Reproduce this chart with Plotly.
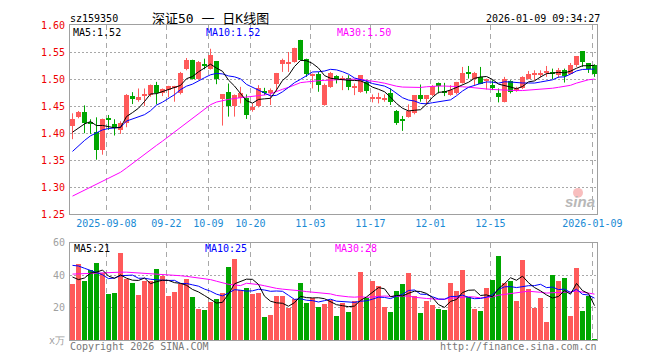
import plotly.graph_objects as go

# ---------------- data ----------------
dates = (
    ["2025-08-29"]
    + ["2025-09-%02d" % d for d in (1, 2, 3, 4, 5, 8, 9, 10, 11, 12, 15, 16, 17, 18, 19, 22, 23, 24, 25, 26, 29, 30)]
    + ["2025-10-%02d" % d for d in (9, 10, 13, 14, 15, 16, 17, 20, 21, 22, 23, 24, 27, 28, 29, 30, 31)]
    + ["2025-11-%02d" % d for d in (3, 4, 5, 6, 7, 10, 11, 12, 13, 14, 17, 18, 19, 20, 21, 24, 25, 26, 27, 28)]
    + ["2025-12-%02d" % d for d in (1, 2, 3, 4, 5, 8, 9, 10, 11, 12, 15, 16, 17, 18, 19, 22, 23, 24, 25, 26, 29, 30, 31)]
    + ["2026-01-%02d" % d for d in (5, 6, 7, 8, 9)]
)

open_ = [1.4135, 1.4307, 1.4386, 1.4196, 1.4025, 1.3695, 1.4270, 1.4166, 1.4062, 1.4196,
         1.4680, 1.4613, 1.4686, 1.4704, 1.4900, 1.4747, 1.4796, 1.4827, 1.4747, 1.5182,
         1.5359, 1.5010, 1.5286, 1.5188, 1.5335, 1.4631, 1.4766, 1.4502, 1.4643, 1.4643,
         1.4429, 1.4502, 1.4784, 1.4735, 1.4919, 1.5274, 1.5274, 1.5316, 1.5726, 1.5365,
         1.5053, 1.5090, 1.4521, 1.4857, 1.5053, 1.4980, 1.5029, 1.4827, 1.4753, 1.4949,
         1.4631, 1.4649, 1.4631, 1.4735, 1.4417, 1.4258, 1.4307, 1.4368, 1.4704, 1.4625,
         1.4704, 1.4937, 1.4784, 1.4704, 1.4735, 1.4937, 1.5133, 1.5010, 1.5041, 1.4968,
         1.4888, 1.4747, 1.4582, 1.4962, 1.4784, 1.4827, 1.5010, 1.5084, 1.5090, 1.5114,
         1.5133, 1.5072, 1.5176, 1.5102, 1.5255, 1.5518, 1.5298, 1.5255]
high = [1.4368, 1.4411, 1.4515, 1.4258, 1.4294, 1.4270, 1.4337, 1.4258, 1.4221, 1.4723,
        1.4759, 1.4827, 1.4827, 1.4900, 1.4949, 1.4827, 1.4876, 1.4876, 1.5133, 1.5390,
        1.5359, 1.5335, 1.5378, 1.5561, 1.5335, 1.4717, 1.4919, 1.4717, 1.4857, 1.4717,
        1.4551, 1.4888, 1.4839, 1.4827, 1.5114, 1.5378, 1.5500, 1.5580, 1.5726, 1.5378,
        1.5102, 1.5133, 1.4919, 1.5133, 1.5072, 1.5059, 1.5072, 1.4919, 1.5072, 1.4980,
        1.4717, 1.4747, 1.4717, 1.4827, 1.4429, 1.4319, 1.4533, 1.4704, 1.4900, 1.4704,
        1.4888, 1.4937, 1.4931, 1.4888, 1.4949, 1.5225, 1.5243, 1.5133, 1.5225, 1.5010,
        1.4980, 1.4827, 1.5041, 1.4980, 1.4857, 1.5053, 1.5151, 1.5163, 1.5163, 1.5243,
        1.5194, 1.5206, 1.5194, 1.5298, 1.5420, 1.5518, 1.5298, 1.5274]
low = [1.3890, 1.4276, 1.4001, 1.3988, 1.3511, 1.3603, 1.4062, 1.3958, 1.3988, 1.4111,
       1.4539, 1.4582, 1.4502, 1.4674, 1.4533, 1.4686, 1.4662, 1.4582, 1.4717, 1.5163,
       1.4992, 1.4998, 1.5182, 1.5176, 1.4906, 1.4141, 1.4307, 1.4307, 1.4551, 1.4264,
       1.4398, 1.4478, 1.4704, 1.4521, 1.4766, 1.5133, 1.5133, 1.5304, 1.5347, 1.5041,
       1.4827, 1.4766, 1.4509, 1.4839, 1.4919, 1.4796, 1.4796, 1.4704, 1.4747, 1.4735,
       1.4570, 1.4551, 1.4582, 1.4521, 1.4154, 1.4043, 1.4288, 1.4349, 1.4582, 1.4533,
       1.4686, 1.4735, 1.4686, 1.4692, 1.4717, 1.4919, 1.5010, 1.4888, 1.4906, 1.4808,
       1.4796, 1.4570, 1.4570, 1.4735, 1.4766, 1.4815, 1.4998, 1.4980, 1.5029, 1.5041,
       1.4998, 1.5023, 1.4937, 1.5090, 1.5225, 1.5225, 1.5114, 1.5041]
close = [1.4258, 1.4386, 1.4196, 1.4172, 1.3695, 1.4270, 1.4258, 1.4105, 1.4196, 1.4711,
         1.4637, 1.4662, 1.4723, 1.4900, 1.4735, 1.4815, 1.4876, 1.4870, 1.5121, 1.5359,
         1.5010, 1.5316, 1.5255, 1.5439, 1.4998, 1.4717, 1.4502, 1.4704, 1.4747, 1.4337,
         1.4490, 1.4845, 1.4759, 1.4796, 1.5114, 1.5359, 1.5316, 1.5580, 1.5359, 1.5090,
         1.5102, 1.4888, 1.4888, 1.5114, 1.5010, 1.5023, 1.4857, 1.4876, 1.5072, 1.4778,
         1.4674, 1.4662, 1.4649, 1.4570, 1.4196, 1.4233, 1.4417, 1.4704, 1.4625, 1.4704,
         1.4876, 1.4870, 1.4747, 1.4796, 1.4949, 1.5114, 1.5102, 1.5114, 1.4919, 1.4992,
         1.4839, 1.4674, 1.5010, 1.4753, 1.4839, 1.5041, 1.5102, 1.5102, 1.5114, 1.5145,
         1.5090, 1.5176, 1.5053, 1.5267, 1.5420, 1.5316, 1.5182, 1.5090]
volume = [34.6, 47.3, 36.3, 43.3, 47.9, 41.3, 28.6, 29.2, 54.0, 37.7,
          35.2, 27.8, 36.7, 36.7, 43.7, 39.7, 27.2, 29.8, 34.6, 37.7,
          26.8, 19.5, 18.7, 23.8, 25.2, 29.2, 44.9, 50.4, 31.2, 32.2,
          28.6, 29.2, 14.1, 15.7, 27.2, 27.2, 20.1, 25.2, 35.2, 23.2,
          26.2, 20.7, 22.2, 24.8, 15.1, 23.2, 17.5, 24.2, 42.3, 25.8,
          36.3, 33.2, 20.5, 17.5, 30.2, 34.6, 41.3, 27.2, 16.5, 24.2,
          21.8, 19.5, 18.7, 35.0, 30.2, 43.1, 26.6, 19.5, 18.1, 32.0,
          36.9, 52.0, 35.0, 36.3, 24.2, 49.7, 31.6, 20.1, 26.2, 11.5,
          40.3, 36.3, 38.3, 15.1, 44.7, 18.1, 27.2, 1.0]

# moving-average values at the start of the window (they depend on earlier days)
ma5_head = [1.4019, 1.4092, 1.4172, 1.4215]
ma10_head = [1.3664, 1.3768, 1.3866, 1.3952, 1.4013, 1.4062, 1.4086, 1.4099, 1.4111]
ma30_head = [1.2838, 1.2893, 1.2948, 1.3003, 1.3058, 1.3113, 1.3168, 1.3223, 1.3278, 1.3358,
             1.3444, 1.3523, 1.3609, 1.3689, 1.3775, 1.3854, 1.3940, 1.4019, 1.4105, 1.4184,
             1.4270, 1.4356, 1.4441, 1.4527, 1.4576, 1.4606, 1.4625, 1.4643, 1.4655]
vol_ma5_head = [38.9, 37.3, 38.3, 41.3]
vol_ma10_head = [46.1, 45.7, 44.3, 42.9, 41.9, 40.3, 37.9, 38.3, 39.7]
vol_ma30_head = [40.7, 40.9, 41.1, 41.3, 41.5, 41.7, 41.7, 41.9, 41.9, 41.9,
                 41.7, 41.5, 41.3, 41.1, 40.9, 40.7, 40.3, 40.0, 39.7, 39.3,
                 38.9, 38.5, 38.1, 37.3, 36.3, 35.2, 34.4, 34.0, 33.6]

tick_dates = ["2025-09-08", "2025-09-22", "2025-10-09", "2025-10-20", "2025-11-03",
              "2025-11-17", "2025-12-01", "2025-12-15", "2026-01-09"]
tick_text = ["2025-09-08", "09-22", "10-09", "10-20", "11-03", "11-17", "12-01", "12-15", "2026-01-09"]
price_ticks = [1.25, 1.30, 1.35, 1.40, 1.45, 1.50, 1.55, 1.60]
vol_ticks = [0, 20, 40, 60]
vol_tick_text = ["x万", "20", "40", "60"]

code = "sz159350"
title = "深证50 一 日K线图"
stamp = "2026-01-09 09:34:27"
ma_labels = ["MA5:1.52", "MA10:1.52", "MA30:1.50"]
vol_ma_labels = ["MA5:21", "MA10:25", "MA30:28"]

# ---------------- helpers ----------------
RED = "#ff5a5a"
GREEN = "#00a600"
MONO = "DejaVu Sans Mono"
OFF = 8          # the page body adds an 8 px margin; work in window pixels and subtract it
FW, FH = 660 - OFF, 360 - OFF


def moving(vals, n, head):
    out = []
    for i in range(len(vals)):
        if i < n - 1:
            out.append(head[i])
        else:
            out.append(sum(vals[i - n + 1:i + 1]) / n)
    return out


n = len(dates)
idx = list(range(n))
up = [close[i] >= open_[i] for i in idx]

ma5 = moving(close, 5, ma5_head)
ma10 = moving(close, 10, ma10_head)
ma30 = moving(close, 30, ma30_head)
vma5 = moving(volume, 5, vol_ma5_head)
vma10 = moving(volume, 10, vol_ma10_head)
vma30 = moving(volume, 30, vol_ma30_head)

fig = go.Figure()

for is_up, col in ((True, RED), (False, GREEN)):
    sel = [i for i in idx if up[i] == is_up]
    wx, wy = [], []
    for i in sel:
        wx += [i, i, None]
        wy += [low[i], high[i], None]
    fig.add_trace(go.Scatter(x=wx, y=wy, mode="lines", line=dict(color=col, width=1),
                             hoverinfo="skip", xaxis="x", yaxis="y"))
    fig.add_trace(go.Bar(x=sel,
                         base=[min(open_[i], close[i]) for i in sel],
                         y=[max(abs(close[i] - open_[i]), 0.0016) for i in sel],
                         width=0.833, marker=dict(color=col, line=dict(width=0)),
                         xaxis="x", yaxis="y"))
    fig.add_trace(go.Bar(x=sel, y=[volume[i] for i in sel], width=0.833,
                         marker=dict(color=col, line=dict(width=0)),
                         xaxis="x2", yaxis="y2"))

for vals, col in ((ma30, "#ff00ff"), (ma10, "#0000ff"), (ma5, "#000000")):
    fig.add_trace(go.Scatter(x=idx, y=vals, mode="lines", line=dict(color=col, width=1),
                             xaxis="x", yaxis="y"))
for vals, col in ((vma30, "#ff00ff"), (vma10, "#0000ff"), (vma5, "#000000")):
    fig.add_trace(go.Scatter(x=idx, y=vals, mode="lines", line=dict(color=col, width=1),
                             xaxis="x2", yaxis="y2"))

tick_pos = [dates.index(d) - 0.35 for d in tick_dates]
xr = [-0.417, n - 1 + 0.417]

# plot-area edges in window pixels
L, R, T, B = 70, 597, 19, 340


def px(x):
    return (x - L) / (R - L)


def py(y):
    return (B - y) / (B - T)


frame = dict(showline=True, mirror=True, linecolor="#a0a0a0", linewidth=1, zeroline=False)

fig.update_layout(
    width=FW, height=FH, autosize=False,
    margin=dict(l=L - OFF, r=660 - R, t=T - OFF, b=360 - B, pad=0),
    plot_bgcolor="white", paper_bgcolor="white",
    showlegend=False, barmode="overlay", bargap=0,
    xaxis=dict(domain=[0, 1], range=xr, anchor="y", tickmode="array", tickvals=tick_pos,
               ticktext=tick_text, tickfont=dict(family=MONO, size=10, color="#1a8ad4"),
               ticks="", showgrid=True, gridcolor="#a8a8a8", gridwidth=1, griddash="5px,4px",
               ticklabelstandoff=0, **frame),
    yaxis=dict(domain=[py(212), 1], range=[1.25, 1.60], tickmode="array", tickvals=price_ticks,
               ticktext=["%.2f" % v for v in price_ticks],
               tickfont=dict(family=MONO, size=10, color="#ee0000"), ticks="",
               showgrid=True, gridcolor="#a8a8a8", gridwidth=1, griddash="2px,2px",
               ticklabelstandoff=2, **frame),
    xaxis2=dict(domain=[0, 1], range=xr, anchor="y2", tickmode="array", tickvals=tick_pos,
                showticklabels=False, ticks="", showgrid=True, gridcolor="#a8a8a8", gridwidth=1,
                griddash="5px,4px", **frame),
    yaxis2=dict(domain=[0, py(241)], range=[0, 60], anchor="x2", tickmode="array", tickvals=vol_ticks,
                ticktext=vol_tick_text, tickfont=dict(family=MONO, size=10, color="#a0a0a0"),
                ticks="", showgrid=True, gridcolor="#a8a8a8", gridwidth=1, griddash="2px,2px",
                ticklabelstandoff=2, **frame),
)


def note(text, x, y, anchor="left", color="#000", size=10, family=MONO):
    fig.add_annotation(text=text, xref="paper", yref="paper", x=px(x), y=py(y),
                       xanchor=anchor, yanchor="middle", showarrow=False,
                       font=dict(family=family, size=size, color=color), borderpad=0)


note(code, 69, 12)
note(title, 151, 12, size=13, family="DejaVu Sans Mono, Noto Sans CJK SC")
note(stamp, 601, 12, anchor="right")
for t, x, c in zip(ma_labels, (72, 205, 336), ("#000000", "#0000ff", "#ff00ff")):
    note(t, x, 27, color=c)
for t, x, c in zip(vol_ma_labels, (73, 204, 334), ("#000000", "#0000ff", "#ff00ff")):
    note(t, x, 247, color=c)
note("Copyright 2026 SINA.COM", 69, 347, color="#777777")
note("http://finance.sina.com.cn", 598, 347, anchor="right", color="#777777")

# sina watermark
fig.add_shape(type="circle", xref="paper", yref="paper", x0=px(573), x1=px(583), y0=py(195), y1=py(185),
              fillcolor="rgba(240,110,110,0.45)", line=dict(width=0))
note("<b><i>sina</i></b>", 580, 199, anchor="center", color="#b8b8b8", size=15, family="Liberation Sans")

fig.write_html("out.html")
